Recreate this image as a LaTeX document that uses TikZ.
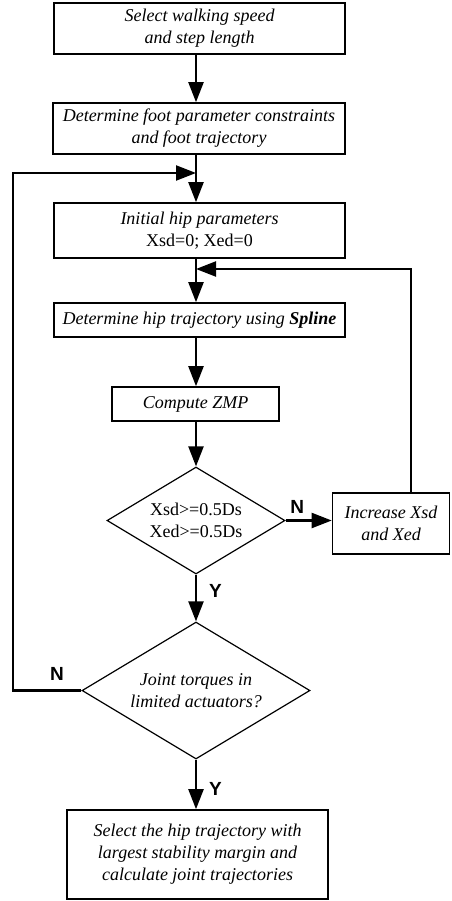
\documentclass[tikz,border=0pt]{standalone}
\usepackage{fontspec}
\setmainfont{Liberation Serif}
\newfontfamily\labfont{Liberation Sans}
\usetikzlibrary{arrows.meta,shapes.geometric,calc}
\begin{document}
\begin{tikzpicture}[x=1pt,y=1pt,
  box/.style={draw,line width=1.6pt,inner sep=0pt,align=center,font=\fontsize{18}{22}\selectfont\itshape},
  dia/.style={draw,diamond,aspect=1.66,line width=1.2pt,inner sep=0pt,align=center,font=\fontsize{18}{22}\selectfont},
  arr/.style={line width=2.2pt,-{Triangle[length=20pt,width=15pt]}},
  yn/.style={font=\labfont\bfseries\fontsize{19}{19}\selectfont,inner sep=0pt}]
\useasboundingbox (0,0) rectangle (451,-901);
\coordinate (spine) at (196,0);
\node[box,minimum width=291,minimum height=51] (b1) at (199.5,-28.5) {Select walking speed\\and step length};
\node[box,minimum width=292,minimum height=51] (b2) at (199,-128.5) {Determine foot parameter constraints\\and foot trajectory};
\node[box,minimum width=291,minimum height=55] (b3) at (199.5,-230.5) {Initial hip parameters\\\upshape Xsd=0; Xed=0};
\node[box,minimum width=291,minimum height=34] (b4) at (199.5,-320) {Determine hip trajectory using \textbf{Spline}};
\node[box,minimum width=167,minimum height=34] (b5) at (195.5,-404) {Compute ZMP};
\node[dia,minimum width=178,minimum height=107] (d1) at (196,-520.5) {Xsd>=0.5Ds\\Xed>=0.5Ds};
\node[box,minimum width=117,minimum height=61] (inc) at (391,-523.5) {Increase Xsd\\and Xed};
\node[dia,font=\fontsize{18}{22}\selectfont\itshape,minimum width=228,minimum height=137] (d2) at (196,-690.5) {Joint torques in\\limited actuators?};
\node[box,minimum width=261,minimum height=89] (b6) at (197.5,-854.5) {Select the hip trajectory with\\largest stability margin and\\calculate joint trajectories};
\coordinate (j1) at (196,-173);
\coordinate (j2) at (196,-269);
\coordinate (lx) at (13,0);
\coordinate (rx) at (411,0);
% main flow
\draw[arr] (b1.south -| spine) -- (b2.north -| spine);
\draw[arr] (b2.south -| spine) -- (b3.north -| spine);
\draw[arr] (b3.south -| spine) -- (b4.north -| spine);
\draw[arr] (b4.south -| spine) -- (b5.north -| spine);
\draw[arr] (b5.south -| spine) -- (d1.north);
\draw[arr] (d1.south) -- node[yn,right=12pt,pos=0.35]{Y} (d2.north);
\draw[arr] (d2.south) -- node[yn,right=12pt,pos=0.6]{Y} (b6.north -| spine);
% N branch of d1
\draw[arr] (d1.east) -- node[yn,above=6pt,pos=0.25]{N} (d1.east -| inc.west);
\draw[arr] (inc.north -| rx) |- (j2);
% N branch of d2
\draw[arr] (d2.west) -- (d2.west -| lx) |- (j1);
\node[yn] (nl) at (57,-674) {N};
\end{tikzpicture}
\end{document}
